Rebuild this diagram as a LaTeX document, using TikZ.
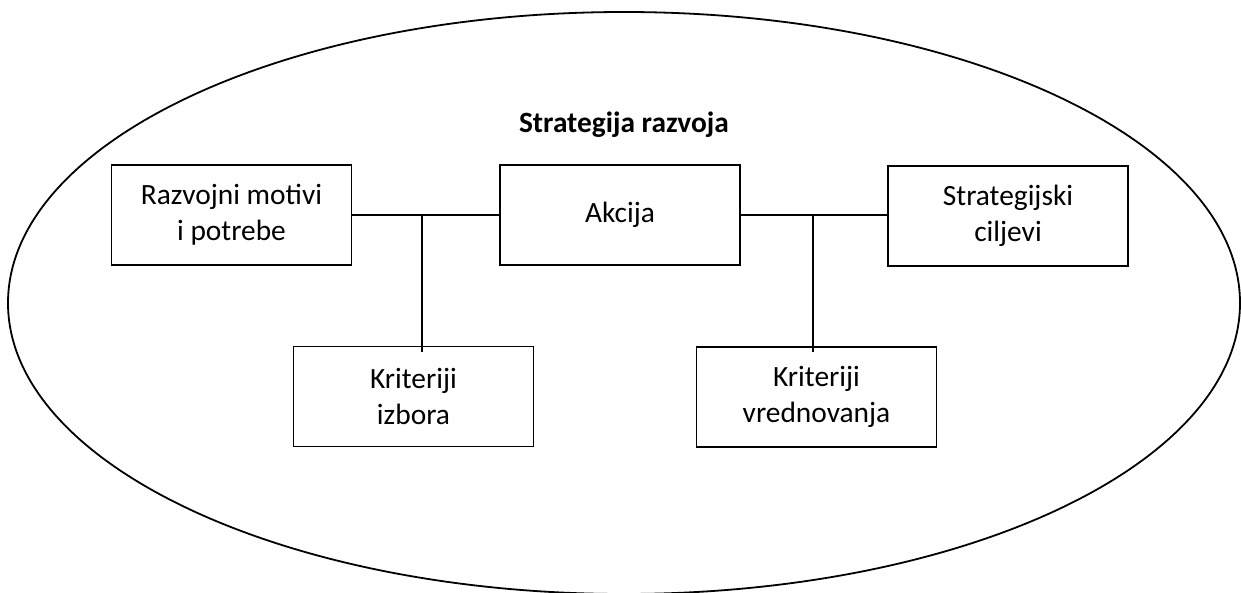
\documentclass[tikz,border=0pt]{standalone}
\usepackage{fontspec}
\setmainfont{Carlito}

\begin{document}
\begin{tikzpicture}[x=0.5pt, y=-0.5pt, line width=0.9pt,
	every node/.style={font=\fontsize{14.7}{18}\selectfont},
	box/.style={draw, align=center, minimum width=120pt, minimum height=50pt, inner sep=2pt}]
\useasboundingbox (0,0) rectangle (1241,593);

% outer ellipse
	\draw (624,303) ellipse [x radius=308pt, y radius=145.5pt];

% title
	\node (title) at (624,125) {\textbf{Strategija razvoja}};

% upper row
	\node[box] (motivi) at (231.5,215) {Razvojni motivi\\i potrebe};
	\node[box] (akcija) at (620,215) {Akcija};
	\node[box] (ciljevi) at (1008,216) {Strategijski\\ciljevi};

% lower row
	\node[box] (izbor) at (413.5,396.5) {Kriteriji\\izbora};
	\node[box] (vrednovanje) at (816.5,397) {Kriteriji\\vrednovanja};

% connections
\draw (motivi.east) -- (akcija.west);
\draw (akcija.east) -- (akcija.east -| ciljevi.west);
\coordinate (j1) at (422,215);
\coordinate (j2) at (813,215);
\draw (j1) -- ([yshift=-3pt]j1 |- izbor.north);
\draw (j2) -- ([yshift=-3pt]j2 |- vrednovanje.north);

\end{tikzpicture}
\end{document}
